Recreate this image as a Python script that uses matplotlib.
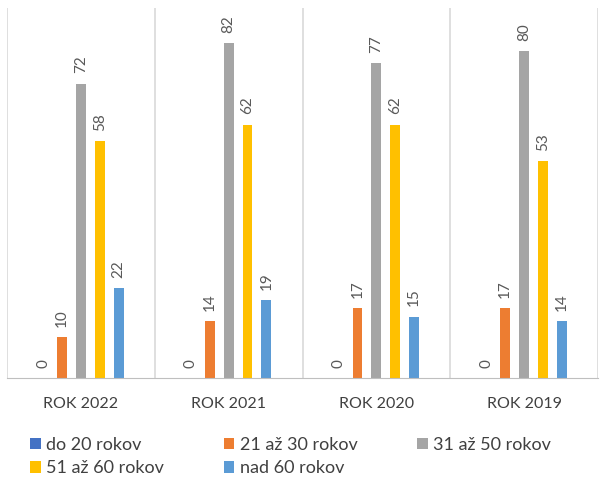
import matplotlib.pyplot as plt
import numpy as np

plt.rcParams['font.family'] = ['Lato', 'DejaVu Sans']

roky = ['ROK 2022', 'ROK 2021', 'ROK 2020', 'ROK 2019']
skupiny = ['do 20 rokov', '21 až 30 rokov', '31 až 50 rokov', '51 až 60 rokov', 'nad 60 rokov']
do_20 = [0, 0, 0, 0]
od_21_do_30 = [10, 14, 17, 17]
od_31_do_50 = [72, 82, 77, 80]
od_51_do_60 = [58, 62, 62, 53]
nad_60 = [22, 19, 15, 14]
farby = ['#4472C4', '#ED7D31', '#A5A5A5', '#FFC000', '#5B9BD5']

hodnoty = [do_20, od_21_do_30, od_31_do_50, od_51_do_60, nad_60]

fig = plt.figure(figsize=(6.02, 4.79), dpi=100)
ax = fig.add_axes([7/602, 101/479, 591/602, 370/479])

x = np.arange(len(roky))
krok = 0.128
sirka = 0.067
for i, (nazov, vals) in enumerate(zip(skupiny, hodnoty)):
    pos = x + (i - 2) * krok
    bars = ax.bar(pos, vals, sirka, color=farby[i], label=nazov)
    for b, v in zip(bars, vals):
        ax.text(b.get_x() + b.get_width() / 2, v + 2.5, str(v), rotation=90,
                ha='center', va='bottom', fontsize=11, color='#595959')

ax.set_xlim(-0.5, len(roky) - 0.5)
ax.set_ylim(0, 90.5)
for s in ['top', 'right', 'left']:
    ax.spines[s].set_visible(False)
ax.spines['bottom'].set_color('#BFBFBF')
for k in range(len(roky) + 1):
    ax.axvline(k - 0.5, color='#D9D9D9', lw=1.2, zorder=0)
ax.set_yticks([])
ax.set_xticks(x)
ax.set_xticklabels(roky, fontsize=11.5, color='#404040')
ax.tick_params(axis='x', length=0, pad=14)

# legenda po riadkoch
h, l = ax.get_legend_handles_labels()
poradie = [0, 3, 1, 4, 2]
fig.legend([h[i] for i in poradie], [l[i] for i in poradie],
           loc='lower left', bbox_to_anchor=(0.045, 0.0), ncol=3, frameon=False,
           fontsize=13, handlelength=0.6, handleheight=0.6, handletextpad=0.3,
           columnspacing=3.3, labelspacing=0.4, borderpad=0.05,
           borderaxespad=0.1, labelcolor='#404040')

plt.savefig('out.png', dpi=100)
